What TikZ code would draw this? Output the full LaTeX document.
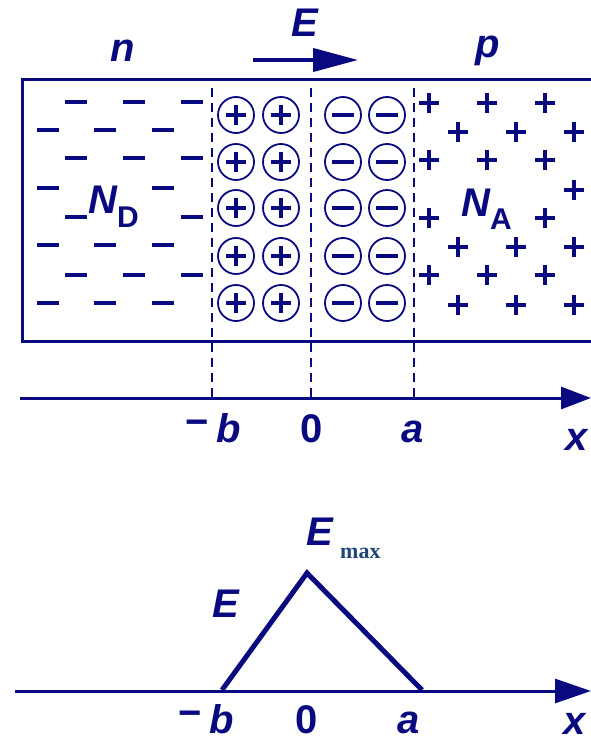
\documentclass[tikz,border=0pt]{standalone}
\usepackage{fontspec}
\setmainfont{Liberation Sans}
\newfontfamily\maxfont{Liberation Serif}
\usepackage{tikz}
\usetikzlibrary{arrows.meta}
\definecolor{navyblue}{RGB}{10,10,128}
\definecolor{maxblue}{RGB}{30,70,120}

\begin{document}
\begin{tikzpicture}[
    x=1pt, y=-1pt,
    lbl/.style={text=navyblue, font=\fontsize{40}{40}\selectfont\bfseries\itshape, inner sep=0pt, anchor=base},
    num/.style={text=navyblue, font=\fontsize{40}{40}\selectfont\bfseries, inner sep=0pt, anchor=base},
    maxsub/.style={text=maxblue, font=\maxfont\fontsize{22}{22}\selectfont\bfseries, inner sep=0pt, anchor=base west},
    ion/.style={circle, draw=navyblue, line width=1.8pt, minimum size=36pt, inner sep=0pt},
    ionsign/.style={draw=navyblue, line width=4pt},
    dopant/.style={draw=navyblue, line width=4pt},
    border/.style={draw=navyblue, line width=3pt},
    junction/.style={draw=navyblue, line width=2.5pt, dash pattern=on 9pt off 6pt},
    xaxis/.style={draw=navyblue, line width=3pt, -{Triangle[length=30pt,width=22pt]}},
    field/.style={draw=navyblue, line width=4pt, -{Triangle[length=45pt,width=23pt]}},
    profile/.style={draw=navyblue, line width=5pt, line join=miter}
]
\useasboundingbox (0,0) rectangle (591,741);

% sample
\draw[border] (591,80) -- (22,80) -- (22,341) -- (591,341);

% region labels and field arrow
\node[lbl] (n) at (123,62) {n};
\node[lbl] (p) at (488,58) {p};
\node[lbl] (efield) at (305,37) {E};
\coordinate (f0) at (253,60);
\coordinate (f1) at (358,60);
\draw[field] (f0) -- (f1);

% donors (n side)
\foreach \x/\y in {76/102,134/102,192/102, 48/130,105/130,163/130,
                   76/158,134/158,192/158, 48/188,163/188, 76/217,192/217,
                   48/245,105/245,163/245, 76/275,134/275,192/275,
                   48/303,105/303,163/303}
  \draw[dopant] (\x-11,\y) -- (\x+11,\y);
\node[lbl, anchor=base west] (nd) at (88,213)
  {N\raisebox{-14pt}{\fontsize{30}{30}\selectfont\upshape D}};

% acceptors (p side)
\foreach \x/\y in {429/103,487/103,545/103, 458/132,516/132,574/132,
                   429/160,487/160,545/160, 574/190, 429/218,545/218,
                   458/247,516/247,574/247, 429/275,487/275,545/275,
                   458/305,516/305,574/305}
  \draw[dopant] (\x-10,\y) -- (\x+10,\y) (\x,\y-10) -- (\x,\y+10);
\node[lbl, anchor=base west] (na) at (461,216)
  {N\raisebox{-13pt}{\fontsize{30}{30}\selectfont\upshape A}};

% depletion region
\foreach \y in {115,162,208,256,303} {
  \foreach \x in {236,281} {
    \node[ion] (donor-\x-\y) at (\x,\y) {};
    \draw[ionsign] (\x-10,\y) -- (\x+10,\y) (\x,\y-10) -- (\x,\y+10);
  }
  \foreach \x in {343,387} {
    \node[ion] (acceptor-\x-\y) at (\x,\y) {};
    \draw[ionsign] (\x-11,\y) -- (\x+11,\y);
  }
}

% axis
\coordinate (ax0) at (20,398);
\coordinate (ax1) at (591,398);
\draw[xaxis] (ax0) -- (ax1);
\foreach \x in {212,311,414}
  \draw[junction] (\x,88) -- (\x,398);
\node[lbl, anchor=base west] (mb) at (185,442) {\raisebox{7pt}{\upshape −}\hspace{8pt}b};
\node[num] (zero) at (312,442) {0};
\node[lbl] (a) at (413,442) {a};
\node[lbl] (x) at (577,450) {x};

% field profile
\coordinate (bx0) at (15,691);
\coordinate (bx1) at (591,691);
\draw[xaxis, -{Triangle[length=36pt,width=24pt]}] (bx0) -- (bx1);
\coordinate (lb) at (222,690);
\coordinate (top) at (307,573);
\coordinate (la) at (422,690);
\draw[profile] (lb) -- (top) -- (la);
\node[lbl] (elabel) at (226,617) {E};
\node[lbl] (emax) at (320,545) {E};
\node[maxsub] (max) at (340,558) {max};
\node[lbl, anchor=base west] (mb2) at (178,733) {\raisebox{7pt}{\upshape −}\hspace{8pt}b};
\node[num] (zero2) at (307,733) {0};
\node[lbl] (a2) at (409,733) {a};
\node[lbl] (x2) at (575,734) {x};

\end{tikzpicture}
\end{document}
